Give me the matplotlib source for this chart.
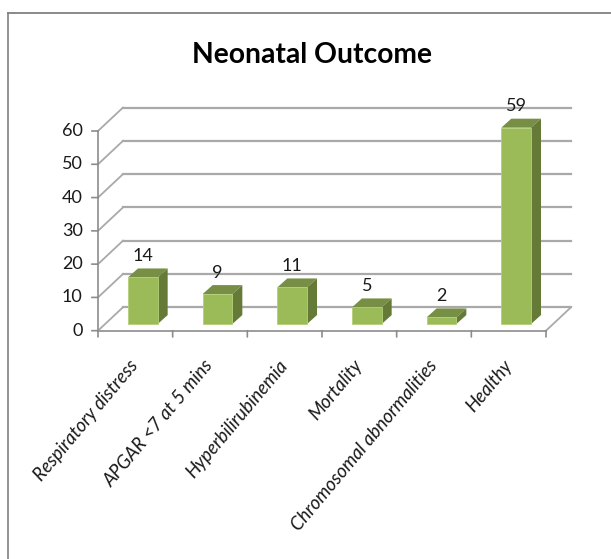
import matplotlib
matplotlib.use('Agg')
import matplotlib.pyplot as plt
from matplotlib.lines import Line2D

categories = ['Respiratory distress', 'APGAR <7 at 5 mins', 'Hyperbilirubinemia',
              'Mortality', 'Chromosomal abnormalities', 'Healthy']
values = [14, 9, 11, 5, 2, 59]
y_ticks = [0, 10, 20, 30, 40, 50, 60]

plt.rcParams['font.family'] = ['Lato', 'DejaVu Sans']

W, H = 611, 559
fig = plt.figure(figsize=(W / 100, H / 100), dpi=100)

# chart frame, open on the right and at the bottom
fig.add_artist(Line2D([8 / W, 8 / W], [0, 1 - 13 / H], color='#8a8a8a', lw=1.3))
fig.add_artist(Line2D([8 / W, 1], [1 - 13 / H, 1 - 13 / H], color='#808080', lw=1.3))

# axes span the front floor edge, 3D effect is done with offsets in data units
ax = fig.add_axes([98 / W, 1 - 330.7 / H, 448 / W, 199.7 / H])
ax.set_xlim(0, 6)
ax.set_ylim(0, 60)
ax.axis('off')

wall_dx, wall_dy = 0.335, 7.05
bar_w, bar_base, bar_center = 0.398, 2.0, 0.6
bar_dx, bar_dy = 0.134, 2.7

grid_c = '#a9a9a9'
axis_c = '#8c8c8c'

# back wall gridlines and their slanted links to the axis
for t in y_ticks:
    ax.plot([wall_dx, 6 + wall_dx], [t + wall_dy, t + wall_dy], color=grid_c, lw=1.6,
            clip_on=False, zorder=1)
    ax.plot([0, wall_dx], [t, t + wall_dy], color=grid_c, lw=1.3, clip_on=False, zorder=1)

# floor edges
ax.plot([6, 6 + wall_dx], [0, wall_dy], color=grid_c, lw=1.3, clip_on=False, zorder=1)
ax.plot([0, 6], [0, 0], color=axis_c, lw=1.2, clip_on=False, zorder=2)
ax.plot([0, 0], [0, 60], color=axis_c, lw=1.2, clip_on=False, zorder=2)

# tick marks and y labels
for t in y_ticks:
    ax.annotate('', xy=(0, t), xytext=(-4.5, 0), textcoords='offset points',
                arrowprops=dict(arrowstyle='-', color=axis_c, lw=1.2, shrinkA=0, shrinkB=0))
    ax.annotate(str(t), xy=(0, t), xytext=(-11, 0), textcoords='offset points',
                ha='right', va='center', fontsize=13, color='#1a1a1a')
for i in range(7):
    ax.annotate('', xy=(i, 0), xytext=(0, -4.5), textcoords='offset points',
                arrowprops=dict(arrowstyle='-', color=axis_c, lw=1.2, shrinkA=0, shrinkB=0))

# bars: front face plus top and side polygons
xs = [i + bar_center for i in range(len(values))]
ax.bar(xs, values, width=bar_w, bottom=bar_base, color='#9bbb59', edgecolor='#b3cf78',
       linewidth=0.6, zorder=4, clip_on=False)
for x, v in zip(xs, values):
    left, right = x - bar_w / 2, x + bar_w / 2
    top = bar_base + v
    ax.fill([left, right, right + bar_dx, left + bar_dx],
            [top, top, top + bar_dy, top + bar_dy],
            color='#778f45', lw=0, zorder=3, clip_on=False)
    ax.fill([right, right + bar_dx, right + bar_dx, right],
            [bar_base, bar_base + bar_dy, top + bar_dy, top],
            color='#667a38', lw=0, zorder=3, clip_on=False)
    ax.annotate(str(v), xy=(x, top), xytext=(0, 15.5), textcoords='offset points',
                ha='center', va='center', fontsize=13, color='#1a1a1a', zorder=6,
                annotation_clip=False)

# rotated category labels
for i, name in enumerate(categories):
    ax.annotate(name, xy=(i + 0.5, 0), xytext=(0, -23), textcoords='offset points',
                rotation=50, rotation_mode='anchor', ha='right', va='center',
                fontsize=13.4, style='italic', color='#1a1a1a')

fig.text(312 / W, 1 - 55 / H, 'Neonatal Outcome', ha='center', va='center',
         fontsize=20.3, fontweight='bold', color='black')

fig.savefig('out.png', dpi=100, facecolor='white')
